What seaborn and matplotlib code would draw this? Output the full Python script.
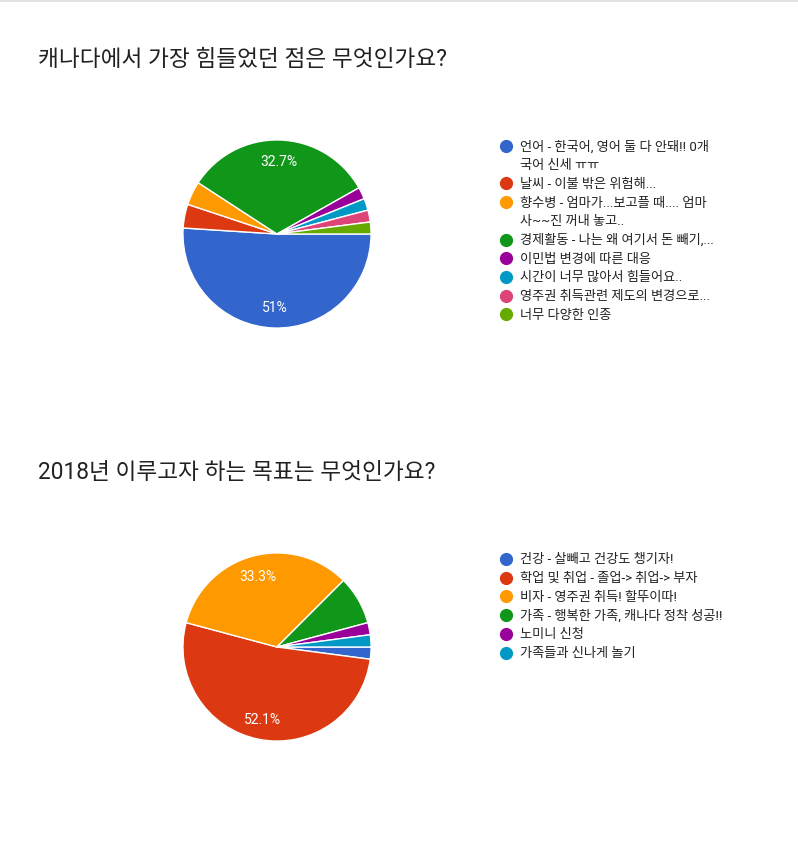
import matplotlib
matplotlib.use('Agg')
import matplotlib.pyplot as plt
import seaborn as sns

# Graphs set-up
sns.set_theme(style='white')
plt.rcParams['font.family'] = ['Roboto', 'Noto Sans CJK KR', 'DejaVu Sans']

# survey data (response counts)
title1 = '캐나다에서 가장 힘들었던 점은 무엇인가요?'
labels1 = ['언어 - 한국어, 영어 둘 다 안돼!! 0개\n국어 신세 ㅠㅠ',
           '날씨 - 이불 밖은 위험해...',
           '향수병 - 엄마가...보고플 때.... 엄마\n사~~진 꺼내 놓고..',
           '경제활동 - 나는 왜 여기서 돈 빼기,...',
           '이민법 변경에 따른 대응',
           '시간이 너무 많아서 힘들어요..',
           '영주권 취득관련 제도의 변경으로...',
           '너무 다양한 인종']
counts1 = [25, 2, 2, 16, 1, 1, 1, 1]

title2 = '2018년 이루고자 하는 목표는 무엇인가요?'
labels2 = ['건강 - 살빼고 건강도 챙기자!',
           '학업 및 취업 - 졸업-> 취업-> 부자',
           '비자 - 영주권 취득! 할뚜이따!',
           '가족 - 행복한 가족, 캐나다 정착 성공!!',
           '노미니 신청',
           '가족들과 신나게 놀기']
counts2 = [1, 25, 16, 4, 1, 1]

google_colors = ['#3366cc', '#dc3912', '#ff9900', '#109618',
                 '#990099', '#0099c6', '#dd4477', '#66aa00']

W, H = 798, 854


def pct_label(p):
    if p < 10:
        return ''
    s = f'{p:.1f}'
    if s.endswith('.0'):
        s = s[:-2]
    return s + '%'


def draw_block(fig, overlay, title, labels, counts, top):
    palette = sns.color_palette(google_colors[:len(counts)])
    overlay.text(38, top + 60, title, fontsize=16.3, color='#212121',
                 va='center', ha='left')

    # pie, centre at (277, top + 235), radius 95 px
    cx, cy, r = 277, top + 235, 95
    ax = fig.add_axes([(cx - r) / W, 1 - (cy + r) / H, 2 * r / W, 2 * r / H])
    ax.pie(counts, colors=palette, startangle=0, counterclock=False,
           autopct=pct_label, pctdistance=0.78,
           wedgeprops=dict(edgecolor='white', linewidth=1),
           textprops=dict(color='white', fontsize=10))
    ax.set_xlim(-1.01, 1.01)
    ax.set_ylim(-1.01, 1.01)
    ax.set_aspect('equal')
    ax.axis('off')

    # legend
    line_h = 18.7
    y = top + 147
    for lab, col in zip(labels, palette):
        overlay.scatter([506], [y], s=72, color=col, zorder=3)
        lines = lab.split('\n')
        for k, ln in enumerate(lines):
            overlay.text(520, y + k * line_h, ln, fontsize=9.5, color='#222222',
                         va='center', ha='left')
        y += line_h * len(lines)


def main():
    fig = plt.figure(figsize=(W / 100, H / 100), dpi=100)
    fig.patch.set_facecolor('white')
    overlay = fig.add_axes([0, 0, 1, 1])
    overlay.set_xlim(0, W)
    overlay.set_ylim(H, 0)
    overlay.axis('off')
    overlay.axhline(1, color='#e3e3e3', linewidth=2)

    draw_block(fig, overlay, title1, labels1, counts1, 0)
    draw_block(fig, overlay, title2, labels2, counts2, 413)

    fig.savefig('out.png', dpi=100)


if __name__ == '__main__':
    main()
